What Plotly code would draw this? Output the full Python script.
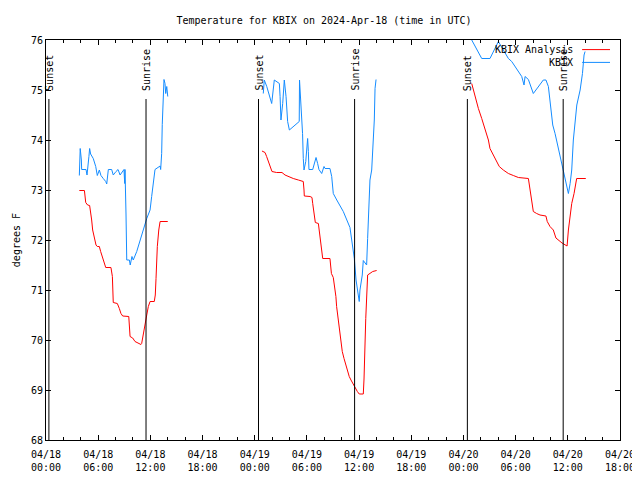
import plotly.graph_objects as go

# ---------------- data ----------------
d1_blue_t = ["03:50","03:56","04:04","04:06","04:36","04:43","04:56","05:01","05:08","05:26",
             "05:43","05:54","06:08","06:19","06:35","06:52","06:59","07:10","07:33","07:44",
             "08:03","08:17","08:31","08:46","08:58","09:03","09:05","09:12","09:17","09:35",
             "09:41","09:53","10:02","10:26","10:49","11:11","11:35","11:58","12:09","12:20",
             "12:27","12:32","13:07","13:11","13:18","13:22","13:34","13:41","13:46","13:53","14:00"]
d1_blue_v = [73.29,73.83,73.6,73.41,73.41,73.30,73.67,73.83,73.72,73.63,
             73.47,73.29,73.40,73.29,73.23,73.17,73.12,73.41,73.41,73.30,
             73.37,73.41,73.30,73.37,73.41,73.13,73.41,72.52,71.60,71.60,
             71.50,71.67,71.60,71.77,71.97,72.2,72.43,72.6,72.87,73.2,
             73.33,73.41,73.48,73.41,73.73,74.31,75.21,75.13,74.93,75.07,74.87]

d1_red_t = ["03:50","04:25","04:34","04:47","05:01","05:06","05:15","05:22","05:31","05:45",
            "05:54","06:08","06:17","06:29","06:40","06:52","07:28","07:38","07:44","08:12",
            "08:26","08:37","08:49","09:31","09:40","09:58","10:14","10:37","10:55","11:00",
            "11:11","11:25","11:35","11:46","11:58","12:27","12:34","12:39","12:44","12:48",
            "12:58","13:07","14:00"]
d1_red_v = [72.99,72.99,72.75,72.70,72.69,72.53,72.40,72.2,72.07,71.9,
            71.87,71.87,71.77,71.67,71.55,71.45,71.45,71.27,70.75,70.73,
            70.63,70.53,70.48,70.47,70.07,70.04,69.97,69.93,69.91,69.93,
            70.13,70.33,70.5,70.67,70.77,70.77,70.9,71.23,71.57,71.87,
            72.2,72.37,72.37]

d2_blue_t = ["00:59","01:06","01:23","01:41","01:57","02:15","02:50","02:55","03:01","03:13",
             "03:24","03:36","03:47","03:59","05:07","05:09","05:17","05:30","05:35","05:40",
             "05:52","05:59","06:05","06:10","06:14","06:40","06:49","07:03","07:14","07:23",
             "07:42","07:58","08:05","08:39","08:51","09:02","09:26","10:11","10:57","11:09",
             "11:20","11:27","11:39","11:50","11:59","12:01","12:06","12:13","12:22","12:29",
             "12:41","12:52","12:59","13:06","13:15","13:27","13:38","13:45","13:50","13:57"]
d2_blue_v = [74.93,75.2,75.07,74.87,74.73,75.2,75.13,74.87,74.4,74.73,
             75.2,74.87,74.37,74.2,74.37,75.2,74.87,74.13,73.63,73.4,
             73.57,73.9,74.03,73.77,73.41,73.41,73.53,73.65,73.53,73.41,
             73.33,73.47,73.43,73.43,73.27,72.93,72.8,72.57,72.25,71.97,
             71.83,71.63,71.2,71.0,70.87,70.77,71.0,71.1,71.3,71.59,
             71.55,71.5,72.03,72.73,73.2,73.4,74.07,74.4,75.03,75.21]

d2_red_t = ["00:50","01:11","01:22","01:41","01:59","02:31","03:08","03:29","03:52","04:26",
            "05:01","05:35","05:40","05:42","06:22","06:35","06:40","06:49","06:58","07:19",
            "07:31","07:42","07:49","08:39","08:49","09:02","09:14","09:20","09:25","09:32",
            "09:41","09:48","09:55","10:04","10:16","10:29","10:39","10:52","11:04","11:16",
            "11:32","11:48","12:01","12:29","12:34","12:38","12:46","12:59","13:15","13:34","14:01"]
d2_red_v = [73.78,73.75,73.67,73.53,73.37,73.35,73.35,73.30,73.27,73.23,
            73.2,73.17,73.0,72.88,72.87,72.85,72.73,72.57,72.35,72.33,
            72.0,71.83,71.63,71.63,71.33,71.25,71.03,70.87,70.67,70.5,
            70.27,70.1,69.9,69.77,69.63,69.48,69.37,69.27,69.2,69.13,
            69.07,68.97,68.92,68.92,69.22,69.8,70.43,71.3,71.33,71.37,71.39]

d3_blue_t = ["00:20","00:57","02:06","03:03","04:01","05:10","05:33","06:07","06:42","06:58",
             "07:05","07:28","08:02","09:11","09:29","09:46","09:57","10:16","10:32","10:47",
             "11:06","11:18","11:29","11:41","11:52","12:04","12:16","12:27","12:38","12:50",
             "13:02","13:25","13:41","13:52","13:59"]
d3_blue_v = [76.25,76.0,75.63,75.63,75.97,75.63,75.57,75.43,75.27,75.1,
             75.27,75.21,74.93,75.2,75.2,75.07,74.8,74.3,74.13,73.93,
             73.73,73.57,73.4,73.27,73.13,72.93,73.13,73.4,74.0,74.4,
             74.7,75.0,75.33,75.7,75.77]

d3_red_t = ["00:57","01:20","01:43","02:06","02:29","02:52","03:03","03:22","03:44","04:07",
            "04:35","05:10","05:44","06:19","07:28","07:39","07:50","08:02","08:25","08:48",
            "09:29","09:38","09:57","10:20","10:38","11:20","11:55","12:04","12:27","12:43",
            "13:01","14:04"]
d3_red_v = [75.13,74.87,74.63,74.43,74.23,74.0,73.83,73.73,73.6,73.47,
            73.4,73.33,73.29,73.25,73.23,73.0,72.73,72.57,72.53,72.5,
            72.48,72.37,72.27,72.2,72.04,71.94,71.88,72.2,72.73,72.93,
            73.23,73.23]

days = ["2024-04-18", "2024-04-19", "2024-04-20"]

sun_times = ["2024-04-18 00:20", "2024-04-18 11:30", "2024-04-19 00:26",
             "2024-04-19 11:29", "2024-04-20 00:27", "2024-04-20 11:28"]
sun_labels = ["Sunset", "Sunrise", "Sunset", "Sunrise", "Sunset", "Sunrise"]

series_names = ["KBIX Analysis", "KBIX"]
series_colors = ["#ff0000", "#148cff"]

y_min, y_max = 68, 76
x_start, x_end = "2024-04-18 00:00", "2024-04-20 18:00"


def join(parts):
    xs, ys = [], []
    for day, ts, vs in parts:
        if xs:
            xs.append(None)
            ys.append(None)
        xs += [f"{day} {t}" for t in ts]
        ys += list(vs)
    return xs, ys


red_x, red_y = join([(days[0], d1_red_t, d1_red_v), (days[1], d2_red_t, d2_red_v),
                     (days[2], d3_red_t, d3_red_v)])
blue_x, blue_y = join([(days[0], d1_blue_t, d1_blue_v), (days[1], d2_blue_t, d2_blue_v),
                       (days[2], d3_blue_t, d3_blue_v)])

FONT = "DejaVu Sans Mono"

fig = go.Figure()
fig.add_trace(go.Scatter(x=red_x, y=red_y, mode="lines", name=series_names[0],
                         line=dict(color=series_colors[0], width=1), connectgaps=False))
fig.add_trace(go.Scatter(x=blue_x, y=blue_y, mode="lines", name=series_names[1],
                         line=dict(color=series_colors[1], width=1), connectgaps=False))

shapes = []
annotations = []
label_bottom = 74.94
for t, lab in zip(sun_times, sun_labels):
    shapes.append(dict(type="line", xref="x", yref="y", x0=t, x1=t, y0=y_min, y1=74.82,
                       line=dict(color="black", width=1)))
    annotations.append(dict(x=t, y=label_bottom, xref="x", yref="y", text=lab, textangle=-90,
                            showarrow=False, xanchor="center", yanchor="bottom",
                            font=dict(family=FONT, size=10, color="black")))

# manual gnuplot-style key (text left of sample line)
key_rows = [(0.976, series_names[0], series_colors[0]), (0.944, series_names[1], series_colors[1])]
for yk, name, col in key_rows:
    annotations.append(dict(x=0.921, y=yk, xref="paper", yref="paper", text=name,
                            showarrow=False, xanchor="right", yanchor="middle",
                            font=dict(family=FONT, size=10, color="black")))
    shapes.append(dict(type="line", xref="paper", yref="paper", x0=0.934, x1=0.9826,
                       y0=yk, y1=yk, line=dict(color=col, width=1)))

annotations.append(dict(x=-0.052, y=0.5, xref="paper", yref="paper", text="degrees F",
                        textangle=-90, showarrow=False, xanchor="center", yanchor="middle",
                        font=dict(family=FONT, size=10, color="black")))

# the page body adds an 8px offset, so the figure is 632x472 with shifted margins
fig.update_layout(
    width=632, height=472,
    margin=dict(l=38, r=20, t=32, b=40, autoexpand=False),
    paper_bgcolor="white", plot_bgcolor="white",
    showlegend=False,
    font=dict(family=FONT, size=10, color="black"),
    title=dict(text="Temperature for KBIX on 2024-Apr-18 (time in UTC)",
               x=0.5, xanchor="center", y=1 - 12 / 472, yanchor="middle",
               font=dict(family=FONT, size=10, color="black")),
    shapes=shapes, annotations=annotations,
)

fig.update_xaxes(
    type="date", range=[x_start, x_end], automargin=False,
    tick0=x_start, dtick=6 * 3600 * 1000, tickformat="%m/%d<br>%H:%M",
    ticks="inside", ticklen=5, tickcolor="black", ticklabelstandoff=5,
    minor=dict(dtick=2 * 3600 * 1000, ticks="inside", ticklen=3, tickcolor="black", showgrid=False),
    showline=True, linecolor="black", linewidth=1, mirror="ticks",
    showgrid=False, zeroline=False,
    tickfont=dict(family=FONT, size=10, color="black"),
)
fig.update_yaxes(
    range=[y_min, y_max], dtick=1, tick0=68, automargin=False,
    ticks="inside", ticklen=5, tickcolor="black",
    showline=True, linecolor="black", linewidth=1, mirror="ticks",
    showgrid=False, zeroline=False,
    tickfont=dict(family=FONT, size=10, color="black"),
)

fig.write_html("out.html")
